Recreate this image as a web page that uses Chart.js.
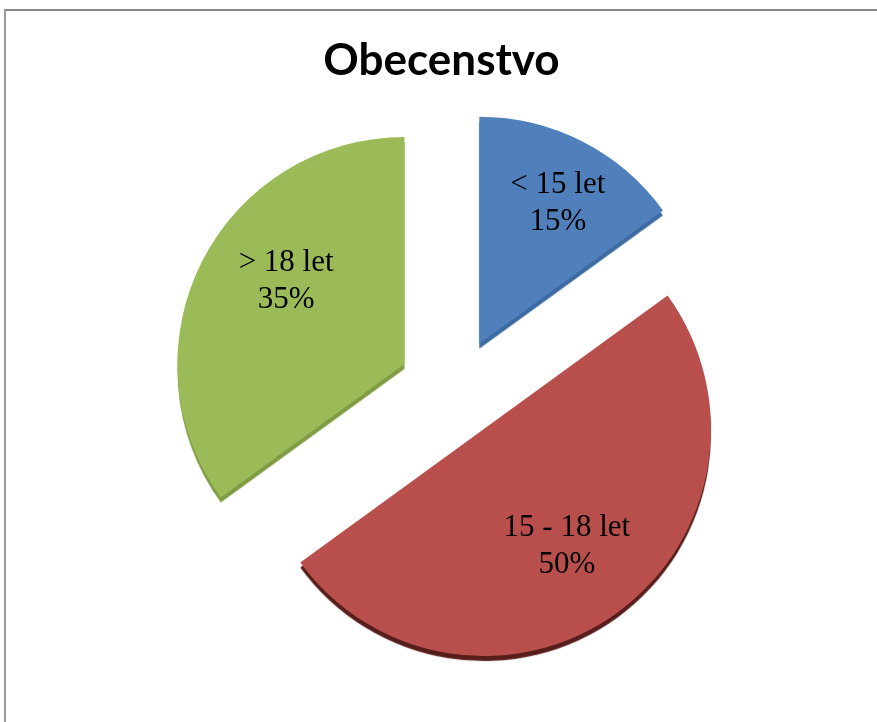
<!DOCTYPE html>
<html>
<head>
<meta charset="utf-8">
<script src="https://cdn.jsdelivr.net/npm/chart.js@4"></script>
<style>
  html, body { margin: 0; padding: 0; background: #ffffff; }
  #wrap { position: relative; width: 877px; height: 722px; overflow: hidden; }
  #frame { position: absolute; left: 4px; top: 9px; width: 900px; height: 800px;
           border-left: 2px solid #9a9a9a; border-top: 2px solid #8a8a8a; box-sizing: border-box; }
  #c { position: absolute; left: 0; top: 0; }
</style>
</head>
<body>
<div id="wrap">
  <div id="frame"></div>
  <canvas id="c" width="877" height="722"></canvas>
</div>
<script>
// ---- data ----
const chartTitle = 'Obecenstvo';
const categories = ['< 15 let', '15 - 18 let', '> 18 let'];
const values = [15, 50, 35];

// ---- style ----
const faceColors = ['#4f80bc', '#b94f4c', '#9bbb59'];
const sideColors = ['#3d6aa0', '#561d1b', '#7f9c44'];
const explodeDist = [52, 48, 57.5];
const labelDist = [0.71, 0.634, 0.63];
const labelPerp = [6, 2, 20];

const total = values.reduce((a, b) => a + b, 0);

const explodePlugin = {
  id: 'explode3d',
  beforeDatasetDraw(chart, args) {
    const ctx = chart.ctx;
    args.meta.data.forEach((arc, i) => {
      const mid = (arc.startAngle + arc.endAngle) / 2;
      const d = explodeDist[i];
      ctx.save();
      ctx.translate(Math.cos(mid) * d, Math.sin(mid) * d);
      ctx.shadowColor = sideColors[i];
      ctx.shadowOffsetX = 0;
      ctx.shadowOffsetY = 5;
      ctx.shadowBlur = 1;
      arc.draw(ctx);
      ctx.restore();
    });
    return false;
  },
  afterDatasetsDraw(chart) {
    const ctx = chart.ctx;
    const meta = chart.getDatasetMeta(0);
    ctx.save();
    ctx.fillStyle = '#000000';
    ctx.font = '31px "Liberation Serif", "Times New Roman", serif';
    ctx.textAlign = 'center';
    ctx.textBaseline = 'middle';
    meta.data.forEach((arc, i) => {
      const mid = (arc.startAngle + arc.endAngle) / 2;
      const dist = explodeDist[i] + labelDist[i] * arc.outerRadius;
      const c = Math.cos(mid), s = Math.sin(mid);
      const x = arc.x + c * dist - s * labelPerp[i];
      const y = arc.y + s * dist + c * labelPerp[i];
      const pct = Math.round(values[i] / total * 100) + '%';
      ctx.fillText(categories[i], x, y - 18.5);
      ctx.fillText(pct, x, y + 18.5);
    });
    ctx.restore();
  },
  afterDraw(chart) {
    const ctx = chart.ctx;
    ctx.save();
    ctx.fillStyle = '#000000';
    ctx.font = 'bold 44px Lato, "Open Sans", sans-serif';
    ctx.textAlign = 'center';
    ctx.textBaseline = 'middle';
    ctx.fillText(chartTitle, 441.5, 61);
    ctx.restore();
  }
};

new Chart(document.getElementById('c'), {
  type: 'pie',
  data: {
    labels: categories,
    datasets: [{
      data: values,
      backgroundColor: faceColors,
      borderWidth: 0,
      radius: 227
    }]
  },
  options: {
    responsive: false,
    animation: false,
    layout: { padding: { left: 34.4, right: 0, top: 58.4, bottom: 0 } },
    plugins: {
      legend: { display: false },
      tooltip: { enabled: false },
      title: { display: false }
    }
  },
  plugins: [explodePlugin]
});
</script>
</body>
</html>
